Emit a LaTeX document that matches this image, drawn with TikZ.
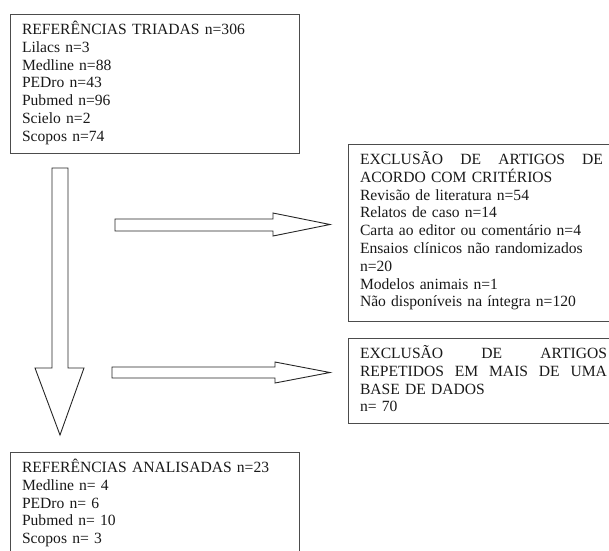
\documentclass[tikz,border=0pt]{standalone}
\usepackage{fontspec}
\setmainfont{Liberation Serif}
\usetikzlibrary{calc}

\tikzset{
  flowbox/.style={draw=black!70, line width=0.9pt, anchor=north west, outer sep=0pt,
    inner xsep=12pt, inner ysep=0pt, align=left, text height=20.5pt,
    font=\fontsize{15.6}{17.8}\selectfont, text=black!90},
  sidebox/.style={flowbox, text width=256pt},
  blockarrow/.style={draw=black!85, line width=0.9pt, fill=white, line join=miter}
}
% justified heading line
\newcommand{\fullline}[2][243pt]{\leavevmode\hbox to #1{#2}}

\begin{document}
\begin{tikzpicture}[x=1pt, y=-1pt]
  \useasboundingbox (0,0) rectangle (609,550);
  \clip (0,0) rectangle (609,550);

  % boxes
  \node[flowbox, text width=265pt, text depth=118.5pt] (tri) at (10,14)
    {REFERÊNCIAS TRIADAS n=306\\ Lilacs n=3\\ Medline n=88\\ PEDro n=43\\ Pubmed n=96\\ Scielo n=2\\ Scopos n=74};
  \node[sidebox, text depth=156.5pt] (excl) at (348,144)
    {\fullline{EXCLUSÃO\hfill DE\hfill ARTIGOS\hfill DE}\\ ACORDO COM CRITÉRIOS\\
     Revisão de literatura n=54\\ Relatos de caso n=14\\ Carta ao editor ou comentário n=4\\
     Ensaios clínicos não randomizados\\ n=20\\ Modelos animais n=1\\ Não disponíveis na íntegra n=120};
  \node[sidebox, text depth=64.5pt] (rep) at (348,338)
    {\fullline[247pt]{EXCLUSÃO\hfill DE\hfill ARTIGOS}\\ \fullline[247pt]{REPETIDOS\hfill EM\hfill MAIS\hfill DE\hfill UMA}\\
     BASE DE DADOS\\ n= 70};
  \node[flowbox, text width=265pt, text depth=120pt] (ana) at (10,452)
    {REFERÊNCIAS ANALISADAS n=23\\ Medline n= 4\\ PEDro n= 6\\ Pubmed n= 10\\ Scopos n= 3};

  % block arrows
  \coordinate (dtail) at ($(tri.south west)+(50,15)$);
  \coordinate (dtip) at ($(ana.north west)+(50,-17)$);
  \coordinate (r1tail) at (115,225);
  \coordinate (r1tip) at (330,224.5);
  \coordinate (r2tail) at (112,372.5);
  \coordinate (r2tip) at (330,372.5);

  \draw[blockarrow] ($(dtail)+(-8,0)$) |- ($(dtip)+(-25,-67)$) -- (dtip)
    -- ($(dtip)+(24,-67)$) -| ($(dtail)+(8,0)$) -- cycle;
  \draw[blockarrow] ($(r1tail)+(0,-6)$) -| ($(r1tip)+(-57,-11.5)$) -- (r1tip)
    -- ($(r1tip)+(-57,11.5)$) |- ($(r1tail)+(0,6)$) -- cycle;
  \draw[blockarrow] ($(r2tail)+(0,-5.5)$) -| ($(r2tip)+(-55,-10.5)$) -- (r2tip)
    -- ($(r2tip)+(-55,10.5)$) |- ($(r2tail)+(0,5.5)$) -- cycle;
\end{tikzpicture}
\end{document}
